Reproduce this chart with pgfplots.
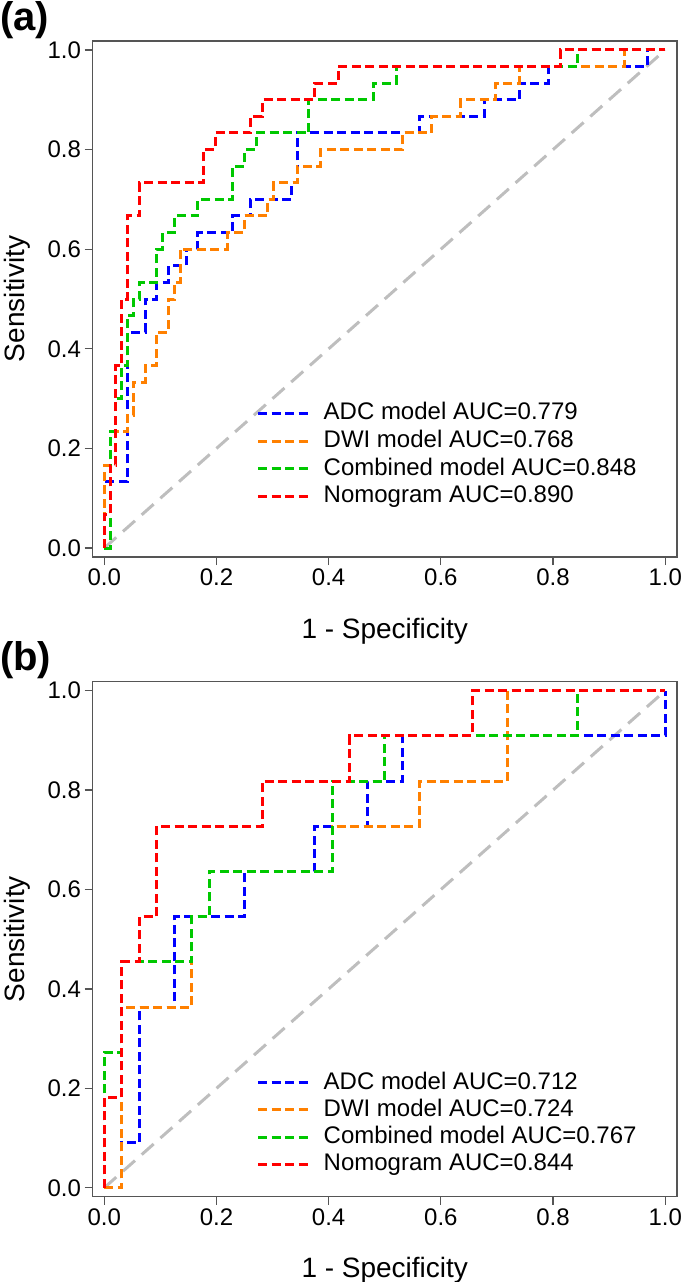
\documentclass[border=0pt]{standalone}
\usepackage{fontspec}
\setmainfont{Liberation Sans}
\usepackage{pgfplots}
\pgfplotsset{compat=1.18}
\definecolor{cblue}{RGB}{0,0,255}
\definecolor{corange}{RGB}{255,128,0}
\definecolor{cgreen}{RGB}{0,200,0}
\definecolor{cred}{RGB}{255,0,0}
\definecolor{cgray}{RGB}{190,190,190}
\definecolor{cframe}{RGB}{85,85,85}
\pgfplotsset{
  rocstyle/.style={
    scale only axis, width=584.5pt,
    xmin=-0.021, xmax=1.021, ymin=-0.018, ymax=1.018,
    xtick={0,0.2,0.4,0.6,0.8,1.0}, ytick={0,0.2,0.4,0.6,0.8,1.0},
    tick align=outside, xtick pos=left, ytick pos=left,
    major tick length=8pt,
    axis line style={cframe, line width=1.3pt},
    every tick/.style={cframe, line width=1.3pt},
    tick label style={font=\fontsize{24}{24}\selectfont, text=black},
    /pgf/number format/fixed, /pgf/number format/fixed zerofill,
    /pgf/number format/precision=1, /pgf/number format/assume math mode=true,
    xlabel={1 - Specificity}, ylabel={Sensitivity},
    label style={font=\fontsize{28}{28}\selectfont},
    xlabel style={at={(axis description cs:0.5,-0.157)}, anchor=base},
    ylabel style={at={(axis description cs:-0.1155,0.5)}, anchor=base, rotate=0},
    legend cell align=left,
    legend image code/.code={\draw[##1] (0pt,0pt) -- (50pt,0pt);},
    every axis plot/.append style={line width=3pt, dash pattern=on 9pt off 4.5pt},
  },
  diag/.style={cgray, line width=3pt, dash pattern=on 16pt off 9pt, forget plot},
}
\begin{document}
\begin{tikzpicture}[x=1pt,y=1pt]
\useasboundingbox (0,0) rectangle (685,-1282);
\node[anchor=north west, inner sep=0pt, font=\fontsize{40}{40}\selectfont\bfseries] at (0,-1) {(a)};
\node[anchor=north west, inner sep=0pt, font=\fontsize{40}{40}\selectfont\bfseries] at (0,-641) {(b)};
% ---------------- panel (a)
\begin{axis}[rocstyle, at={(92.5pt,-41pt)}, anchor=north west, height=516pt,
  legend style={at={(axis cs:0.266,0.298)}, anchor=north west, draw=none, fill=none,
    font=\fontsize{24}{24}\selectfont, column sep=14pt, row sep=4.7pt,
    nodes={inner sep=0pt, text height=18pt, text depth=5pt}}]
\addplot[diag] coordinates {(0,0) (1,1)};
\addplot[cblue] coordinates {
(0,0) (0,0.1333) (0.0417,0.1333) (0.0417,0.4333) (0.0729,0.4333) (0.0729,0.5)
(0.0938,0.5) (0.0938,0.5333) (0.1146,0.5333) (0.1146,0.5667) (0.1458,0.5667)
(0.1458,0.6) (0.1667,0.6) (0.1667,0.6333) (0.2292,0.6333) (0.2292,0.6667)
(0.2604,0.6667) (0.2604,0.7) (0.3333,0.7) (0.3333,0.7333) (0.3438,0.7333)
(0.3438,0.8333) (0.5625,0.8333) (0.5625,0.8667) (0.6771,0.8667) (0.6771,0.9)
(0.7396,0.9) (0.7396,0.9333) (0.7917,0.9333) (0.7917,0.9667) (0.9688,0.9667)
(0.9688,1) (1,1)};
\addlegendentry{ADC model AUC=0.779}
\addplot[corange] coordinates {
(0,0) (0,0.1667) (0.0104,0.1667) (0.0104,0.2333) (0.0417,0.2333) (0.0417,0.2667)
(0.0521,0.2667) (0.0521,0.3333) (0.0729,0.3333) (0.0729,0.3667) (0.0938,0.3667)
(0.0938,0.4333) (0.1146,0.4333) (0.1146,0.5) (0.125,0.5) (0.125,0.5333)
(0.1354,0.5333) (0.1354,0.6) (0.2188,0.6) (0.2188,0.6333) (0.25,0.6333)
(0.25,0.6667) (0.2917,0.6667) (0.2917,0.7) (0.3021,0.7) (0.3021,0.7333)
(0.3438,0.7333) (0.3438,0.7667) (0.3854,0.7667) (0.3854,0.8) (0.5313,0.8)
(0.5313,0.8333) (0.5833,0.8333) (0.5833,0.8667) (0.6354,0.8667) (0.6354,0.9)
(0.6979,0.9) (0.6979,0.9333) (0.7396,0.9333) (0.7396,0.9667) (0.9271,0.9667)
(0.9271,1) (1,1)};
\addlegendentry{DWI model AUC=0.768}
\addplot[cgreen] coordinates {
(0,0) (0.0104,0) (0.0104,0.2333) (0.0208,0.2333) (0.0208,0.3) (0.0313,0.3)
(0.0313,0.3667) (0.0417,0.3667) (0.0417,0.4667) (0.0521,0.4667) (0.0521,0.5)
(0.0625,0.5) (0.0625,0.5333) (0.0938,0.5333) (0.0938,0.6) (0.1042,0.6)
(0.1042,0.6333) (0.125,0.6333) (0.125,0.6667) (0.1667,0.6667) (0.1667,0.7)
(0.2292,0.7) (0.2292,0.7667) (0.25,0.7667) (0.25,0.8) (0.2708,0.8)
(0.2708,0.8333) (0.3646,0.8333) (0.3646,0.9) (0.4792,0.9) (0.4792,0.9333)
(0.5208,0.9333) (0.5208,0.9667) (0.8438,0.9667) (0.8438,1) (1,1)};
\addlegendentry{Combined model AUC=0.848}
\addplot[cred] coordinates {
(0,0) (0,0.0667) (0.0104,0.0667) (0.0104,0.1667) (0.0208,0.1667) (0.0208,0.3667)
(0.0313,0.3667) (0.0313,0.5) (0.0417,0.5) (0.0417,0.6667) (0.0625,0.6667)
(0.0625,0.7333) (0.1771,0.7333) (0.1771,0.8) (0.1979,0.8) (0.1979,0.8333)
(0.2604,0.8333) (0.2604,0.8667) (0.2813,0.8667) (0.2813,0.9) (0.375,0.9)
(0.375,0.9333) (0.4167,0.9333) (0.4167,0.9667) (0.8125,0.9667) (0.8125,1) (1,1)};
\addlegendentry{Nomogram AUC=0.890}
\end{axis}
% ---------------- panel (b)
\begin{axis}[rocstyle, at={(92.5pt,-681.7pt)}, anchor=north west, height=515pt,
  legend style={at={(axis cs:0.266,0.239)}, anchor=north west, draw=none, fill=none,
    font=\fontsize{24}{24}\selectfont, column sep=14pt, row sep=4.2pt,
    nodes={inner sep=0pt, text height=18pt, text depth=5pt}}]
\addplot[diag] coordinates {(0,0) (1,1)};
\addplot[cblue] coordinates {
(0,0) (0.03125,0) (0.03125,0.0909) (0.0625,0.0909) (0.0625,0.3636) (0.125,0.3636)
(0.125,0.5455) (0.25,0.5455) (0.25,0.6364) (0.375,0.6364) (0.375,0.7273)
(0.46875,0.7273) (0.46875,0.8182) (0.53125,0.8182) (0.53125,0.9091) (1,0.9091) (1,1)};
\addlegendentry{ADC model AUC=0.712}
\addplot[corange] coordinates {
(0,0) (0.03125,0) (0.03125,0.3636) (0.15625,0.3636) (0.15625,0.5455) (0.1875,0.5455)
(0.1875,0.6364) (0.40625,0.6364) (0.40625,0.7273) (0.5625,0.7273) (0.5625,0.8182)
(0.71875,0.8182) (0.71875,1) (1,1)};
\addlegendentry{DWI model AUC=0.724}
\addplot[cgreen] coordinates {
(0,0) (0,0.2727) (0.03125,0.2727) (0.03125,0.4545) (0.15625,0.4545) (0.15625,0.5455)
(0.1875,0.5455) (0.1875,0.6364) (0.40625,0.6364) (0.40625,0.8182) (0.5,0.8182)
(0.5,0.9091) (0.84375,0.9091) (0.84375,1) (1,1)};
\addlegendentry{Combined model AUC=0.767}
\addplot[cred] coordinates {
(0,0) (0,0.1818) (0.03125,0.1818) (0.03125,0.4545) (0.0625,0.4545) (0.0625,0.5455)
(0.09375,0.5455) (0.09375,0.7273) (0.28125,0.7273) (0.28125,0.8182) (0.4375,0.8182)
(0.4375,0.9091) (0.65625,0.9091) (0.65625,1) (1,1)};
\addlegendentry{Nomogram AUC=0.844}
\end{axis}
\end{tikzpicture}
\end{document}
